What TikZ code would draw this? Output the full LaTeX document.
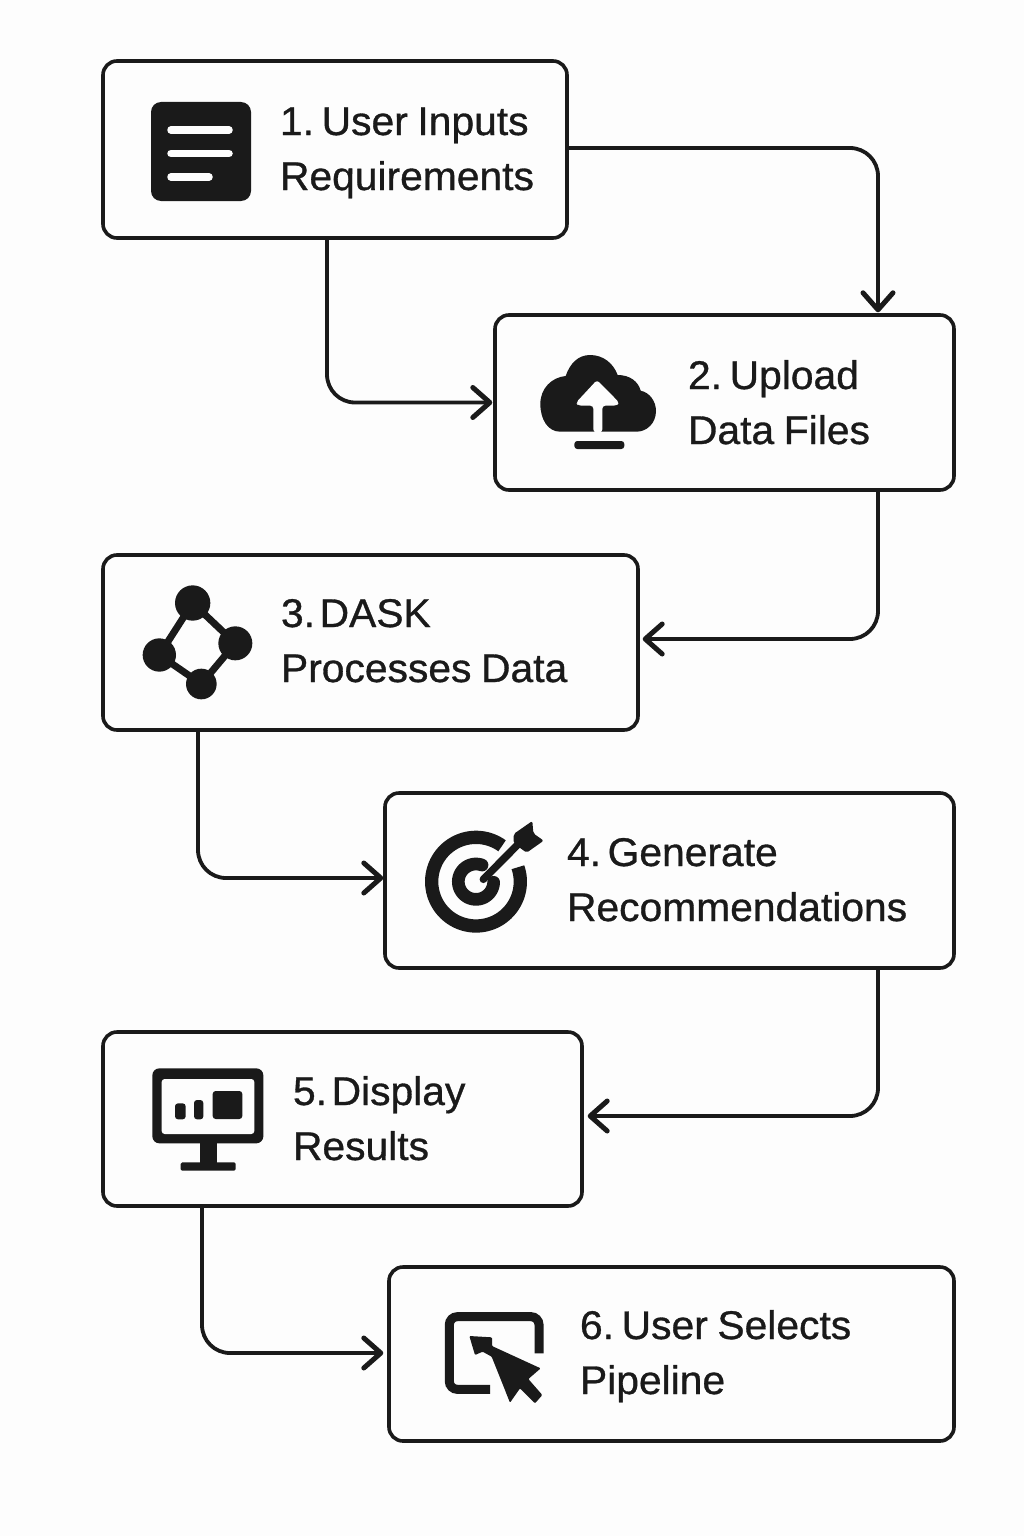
\documentclass[tikz,border=0pt]{standalone}
\usepackage{fontspec}
\setmainfont{Liberation Sans}[FakeStretch=1.02,FakeBold=0.8,WordSpace=0.85]
\usetikzlibrary{arrows.meta}
\definecolor{ink}{HTML}{1A1A1A}
\definecolor{paper}{HTML}{FDFDFD}
\pgfdeclarearrow{
  name=Chev,
  setup code={\pgfarrowssettipend{3.2pt}\pgfarrowssetlineend{0pt}\pgfarrowssetbackend{-18pt}},
  drawing code={
    \pgfsetlinewidth{5pt}\pgfsetroundcap\pgfsetroundjoin\pgfsetdash{}{0pt}
    \pgfpathmoveto{\pgfqpoint{-17pt}{15pt}}
    \pgfpathlineto{\pgfqpoint{0pt}{0pt}}
    \pgfpathlineto{\pgfqpoint{-17pt}{-15pt}}
    \pgfusepathqstroke
  }
}
\tikzset{
  x=1pt,y=-1pt,
  stepbox/.style={draw=ink,line width=3.6pt,rounded corners=14pt,fill=paper,outer sep=0pt,inner sep=0pt},
  steplabel/.style={text=ink,inner sep=0pt,outer sep=0pt,align=left,anchor=base west,font=\fontsize{40}{55}\selectfont\frenchspacing},
  conn/.style={draw=ink,line width=3.8pt,rounded corners=28pt,-Chev},
  iconfill/.style={fill=ink,draw=none},
}
\begin{document}
\begin{tikzpicture}
\useasboundingbox (0,0) rectangle (1024,1536);
\fill[paper] (0,0) rectangle (1024,1536);
% boxes
\node[stepbox,minimum width=464pt,minimum height=177pt] (n1) at (335,149.5) {};
\node[stepbox,minimum width=459pt,minimum height=175pt] (n2) at (724.5,402.5) {};
\node[stepbox,minimum width=535pt,minimum height=175pt] (n3) at (370.5,642.5) {};
\node[stepbox,minimum width=569pt,minimum height=175pt] (n4) at (669.5,880.5) {};
\node[stepbox,minimum width=479pt,minimum height=174pt] (n5) at (342.5,1119) {};
\node[stepbox,minimum width=565pt,minimum height=174pt] (n6) at (671.5,1354) {};
% labels
\node[steplabel] (t1) at (280,190) {1.\hspace{-2pt} User Inputs\\Requirements};
\node[steplabel] (t2) at (688,444) {2.\hspace{-2pt} Upload\\Data Files};
\node[steplabel] (t3) at (281,682) {3.\hspace{-5pt} DASK\\Processes Data};
\node[steplabel] (t4) at (567,921) {4.\hspace{-3pt} Generate\\Recommendations};
\node[steplabel] (t5) at (293,1160) {5.\hspace{-5pt} Display\\Results};
\node[steplabel] (t6) at (580,1394) {6.\hspace{-2pt} User Selects\\Pipeline};
% connectors
\coordinate (c12) at (878,0);
\draw[conn,shorten >=2pt] ([yshift=1.5pt]n1.east) -| (c12 |- n2.north);
\coordinate (c12b) at (327,0);
\draw[conn,shorten >=2pt] (c12b |- n1.south) |- (n2.west);
\draw[conn,shorten >=4pt] (c12 |- n2.south) |- ([yshift=3.5pt]n3.east);
\coordinate (c34) at (198,0);
\draw[conn,shorten >=1pt] (c34 |- n3.south) |- ([yshift=2.5pt]n4.west);
\draw[conn,shorten >=5pt] (c12 |- n4.south) |- ([yshift=3pt]n5.east);
\coordinate (c56) at (202,0);
\draw[conn,shorten >=5pt] (c56 |- n5.south) |- ([yshift=1pt]n6.west);
% icon 1
\fill[ink,rounded corners=10pt] (151,102) rectangle (251,201);
\draw[paper,line width=7.5pt,line cap=round] (171,130) -- (229,130) (171,153.5) -- (229,153.5) (171,177) -- (209,177);
% icon 2
\begin{scope}[shift={(525,340)},scale=1/3]
\path[iconfill] (105,275) .. controls (70,275) and (46,240) .. (46,192) .. controls (46,145) and (80,112) .. (122,108) .. controls (135,70) and (160,45) .. (195,45) .. controls (235,45) and (265,70) .. (278,105) .. controls (315,105) and (340,125) .. (347,152) .. controls (375,158) and (393,185) .. (393,213) .. controls (393,250) and (365,275) .. (335,275) -- cycle;
\path[fill=paper,rounded corners=3pt] (216,120) -- (153,188) -- (160,197) -- (205,197) -- (205,277) -- (232,277) -- (232,197) -- (275,197) -- (283,188) -- cycle;
\path[iconfill,rounded corners=3pt] (148,303) rectangle (298,327);
\end{scope}
% icon 3
\begin{scope}[shift={(130,575)},scale=1/3]
\draw[ink,line width=7pt] (188,84) -- (88,240) -- (214,327) -- (316,205) -- cycle;
\path[iconfill] (188,84) circle[radius=53] (88,240) circle[radius=50] (316,205) circle[radius=51] (214,327) circle[radius=46];
\end{scope}
% icon 4
\begin{scope}[shift={(415,810)},scale=1/3]
\draw[ink,line width=13.3pt] plot[domain=54:379,samples=90] ({183+133*cos(\x)},{215-133*sin(\x)});
\draw[ink,line width=12.7pt,line cap=round] plot[domain=70:358,samples=70] ({183+53*cos(\x)},{215-53*sin(\x)});
\draw[ink,line width=7.5pt,line cap=round] (205,208) -- (320,92);
\path[iconfill,rounded corners=2pt] (296,72) -- (352,33) -- (355,70) -- (386,92) -- (335,128) -- (296,100) -- cycle;
\end{scope}
% icon 5
\begin{scope}[shift={(140,1055)},scale=1/3]
\path[iconfill,rounded corners=7pt] (37,40) rectangle (370,265);
\path[fill=paper,rounded corners=3pt] (65,72) rectangle (343,237);
\path[iconfill,rounded corners=3pt] (105,145) rectangle (137,193) (162,135) rectangle (190,193) (218,108) rectangle (307,192);
\path[iconfill] (180,262) rectangle (232,325);
\path[iconfill,rounded corners=1.5pt] (122,322) rectangle (287,347);
\end{scope}
% icon 6
\begin{scope}[shift={(430,1300)},scale=1/3]
\draw[ink,line width=9pt,rounded corners=8pt] (327,160) -- (327,50) -- (58,50) -- (58,268) -- (180,268);
\path[iconfill,rounded corners=1pt] (118,108) -- (186,112) -- (186,138) -- (332,205) -- (295,237) -- (337,285) -- (315,310) -- (270,265) -- (240,308) -- (185,170) -- (158,155) -- (135,165) -- cycle;
\end{scope}
\end{tikzpicture}
\end{document}
